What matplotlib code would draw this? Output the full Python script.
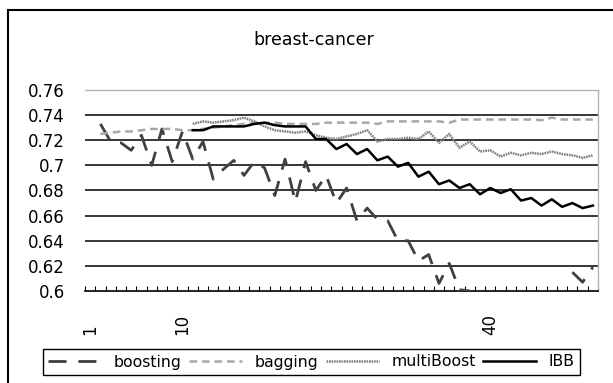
import numpy as np
import matplotlib.pyplot as plt
from matplotlib.patches import Rectangle

plt.rcParams['font.family'] = 'DejaVu Sans'
plt.rcParams['lines.scale_dashes'] = False

nan = np.nan

# 50 categories, only three carry a label
categories = np.arange(1, 51)
label_cats = [1, 10, 40]
label_text = ['1', '10', '40']

boosting = [nan, 0.733, 0.719, 0.718, 0.712, 0.724, 0.700, 0.729, 0.703, 0.727,
            0.705, 0.719, 0.689, 0.697, 0.704, 0.692, 0.703, 0.698, 0.676, 0.705,
            0.671, 0.703, 0.680, 0.692, 0.670, 0.682, 0.656, 0.666, 0.657, 0.656,
            0.640, 0.640, 0.624, 0.629, 0.606, 0.622, 0.601, 0.600, nan, nan,
            nan, nan, nan, nan, nan, nan, nan, 0.615, 0.607, 0.619]

bagging = [nan, 0.725, 0.726, 0.727, 0.727, 0.728, 0.729, 0.729, 0.729, 0.728,
           0.728, 0.729, 0.730, 0.731, 0.732, 0.733, 0.734, 0.734, 0.734, 0.733,
           0.733, 0.733, 0.733, 0.734, 0.734, 0.734, 0.734, 0.734, 0.733, 0.735,
           0.735, 0.735, 0.735, 0.735, 0.735, 0.734, 0.7365, 0.7365, 0.7365, 0.7365,
           0.7365, 0.7365, 0.7365, 0.7365, 0.736, 0.738, 0.7365, 0.7365, 0.7365, 0.7365]

multiboost = [nan, nan, nan, nan, nan, nan, nan, nan, nan, nan,
              0.733, 0.735, 0.734, 0.735, 0.736, 0.738, 0.735, 0.731, 0.728, 0.727,
              0.726, 0.727, 0.724, 0.722, 0.721, 0.723, 0.725, 0.728, 0.719, 0.721,
              0.721, 0.722, 0.721, 0.727, 0.718, 0.725, 0.714, 0.719, 0.711, 0.712,
              0.707, 0.710, 0.708, 0.710, 0.709, 0.711, 0.709, 0.708, 0.706, 0.708]

ibb = [nan, nan, nan, nan, nan, nan, nan, nan, nan, nan,
       0.728, 0.728, 0.731, 0.731, 0.731, 0.731, 0.733, 0.734, 0.732, 0.731,
       0.731, 0.731, 0.721, 0.721, 0.713, 0.717, 0.709, 0.713, 0.704, 0.707,
       0.699, 0.702, 0.691, 0.695, 0.685, 0.688, 0.682, 0.685, 0.677, 0.682,
       0.678, 0.681, 0.672, 0.674, 0.668, 0.673, 0.667, 0.670, 0.666, 0.668]

yticks = [0.6, 0.62, 0.64, 0.66, 0.68, 0.7, 0.72, 0.74, 0.76]
ytick_labels = ['0.6', '0.62', '0.64', '0.66', '0.68', '0.7', '0.72', '0.74', '0.76']

W, H = 613, 383
fig = plt.figure(figsize=(W / 100, H / 100), dpi=100)
ax = fig.add_axes([85 / W, 1 - 291 / H, (598 - 85) / W, (291 - 90) / H])

# horizontal grid
for y in yticks[1:-1]:
    ax.axhline(y, color='black', lw=1.1, zorder=1)

l_boost, = ax.plot(categories, boosting, color='#404040', lw=2.0,
                   dashes=(13, 8.5), zorder=3, label='boosting')
l_bag, = ax.plot(categories, bagging, color='#a8a8a8', lw=1.8,
                 dashes=(5.5, 3.5), zorder=3, label='bagging')
l_mb, = ax.plot(categories, multiboost, color='#808080', lw=1.8,
                dashes=(1.2, 0.6), zorder=4, label='multiBoost')
l_ibb, = ax.plot(categories, ibb, color='black', lw=1.8, zorder=5, label='IBB')

ax.set_xlim(0.5, 50.5)
ax.set_ylim(0.6, 0.76)

ax.set_yticks(yticks)
ax.set_yticklabels(ytick_labels)
ax.tick_params(axis='y', length=0, pad=14.5, labelsize=12)

ax.set_xticks(label_cats)
ax.set_xticklabels(label_text)
ax.set_xticks(np.arange(0.5, 51, 1), minor=True)
ax.tick_params(axis='x', which='major', length=0, pad=32, labelsize=12)
ax.tick_params(axis='x', which='minor', direction='in', length=3.3, width=0.8)
for lbl in ax.get_xticklabels():
    lbl.set_rotation(90)
    lbl.set_rotation_mode('anchor')
    lbl.set_ha('left')
    lbl.set_va('center')

ax.spines['left'].set_visible(False)
ax.spines['bottom'].set_color('black')
ax.spines['bottom'].set_linewidth(1.2)
for s in ['top', 'right']:
    ax.spines[s].set_color('#b4b4b4')
    ax.spines[s].set_linewidth(1.0)

fig.text(314 / W, 1 - 40 / H, 'breast-cancer', ha='center', va='center', fontsize=12.5)

leg = fig.legend(handles=[l_boost, l_bag, l_mb, l_ibb],
                 loc='center', bbox_to_anchor=(311.5 / W, 1 - 362 / H), ncol=4,
                 frameon=True, fancybox=False, edgecolor='black', framealpha=1,
                 handlelength=3.4, handletextpad=0.8, columnspacing=0.45,
                 borderpad=0.35, borderaxespad=0, fontsize=11.3)
leg.get_frame().set_linewidth(1.0)

# chart area border (runs off the right and bottom edge)
fig.add_artist(Rectangle((8 / W, -0.1), 1.2, 1.1 - 10 / H, transform=fig.transFigure,
                         fill=False, edgecolor='black', lw=1.5))

fig.savefig('out.png', dpi=100)
